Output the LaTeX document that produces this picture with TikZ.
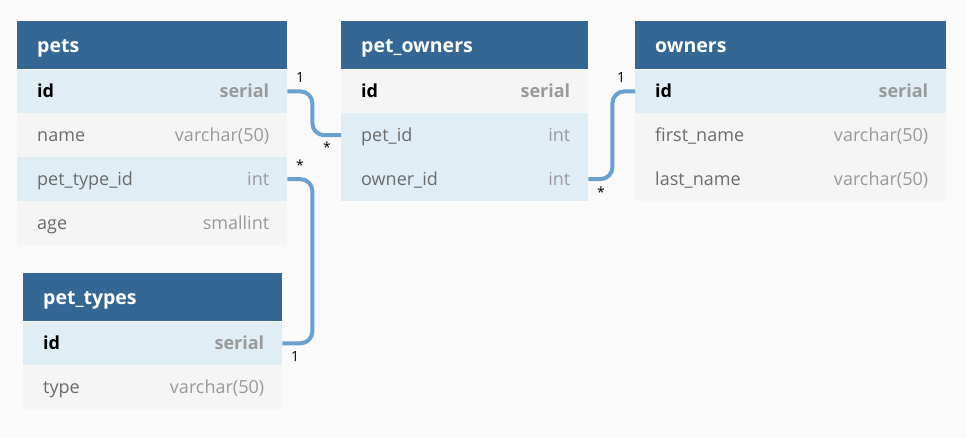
\documentclass[tikz,border=0pt]{standalone}
\usepackage{fontspec}
\setmainfont{Open Sans}
\usepackage{tikz}
\definecolor{bggray}{HTML}{FAFAFA}
\definecolor{hdrblue}{HTML}{356794}
\definecolor{rowblue}{HTML}{E1EDF5}
\definecolor{rowgray}{HTML}{F5F5F5}
\definecolor{fldgray}{HTML}{6B6B6B}
\definecolor{typgray}{HTML}{9A9A9A}
\definecolor{linkblue}{HTML}{6AA1CF}

\begin{document}
\begin{tikzpicture}[x=1pt,y=-1pt]
\tikzstyle{every node}+=[inner sep=0pt]
\tikzstyle{head}=[fill=hdrblue, anchor=north west, minimum height=48pt]
\tikzstyle{rowb}=[fill=rowblue, anchor=north west, minimum height=43.5pt]
\tikzstyle{rowg}=[fill=rowgray, anchor=north west, minimum height=43.5pt]
\tikzstyle{title}=[anchor=base west, text=white, font=\fontsize{19.5}{22}\selectfont\bfseries]
\tikzstyle{fld}=[anchor=base west, text=fldgray, font=\fontsize{18}{21}\selectfont]
\tikzstyle{fldkey}=[fld, text=black, font=\fontsize{18}{21}\selectfont\bfseries]
\tikzstyle{typ}=[anchor=base east, text=typgray, font=\fontsize{18}{21}\selectfont]
\tikzstyle{typkey}=[typ, font=\fontsize{18}{21}\selectfont\bfseries]
\tikzstyle{link}=[draw=linkblue, line width=4pt, rounded corners=12pt]
\tikzstyle{card}=[font=\fontsize{14}{16}\selectfont]
\useasboundingbox (0,0) rectangle (966,438);
\fill [bggray] (0,0) rectangle (966,438);
% pets
\node [head, minimum width=270pt] (pets) at (17,21) {};
\node [title] (pets-t) at ([xshift=20pt,yshift=-7pt]pets.west) {pets};
\node [rowb, minimum width=270pt] (pets-id) at (pets.south west) {};
\node [fldkey] (pets-id-n) at ([xshift=20pt,yshift=-6.5pt]pets-id.west) {id};
\node [typkey] (pets-id-t) at ([xshift=-18pt,yshift=-6.5pt]pets-id.east) {serial};
\node [rowg, minimum width=270pt] (pets-name) at (pets-id.south west) {};
\node [fld] (pets-name-n) at ([xshift=20pt,yshift=-6.5pt]pets-name.west) {name};
\node [typ] (pets-name-t) at ([xshift=-18pt,yshift=-6.5pt]pets-name.east) {varchar(50)};
\node [rowb, minimum width=270pt] (pets-ptid) at (pets-name.south west) {};
\node [fld] (pets-ptid-n) at ([xshift=20pt,yshift=-6.5pt]pets-ptid.west) {pet\_type\_id};
\node [typ] (pets-ptid-t) at ([xshift=-18pt,yshift=-6.5pt]pets-ptid.east) {int};
\node [rowg, minimum width=270pt] (pets-age) at (pets-ptid.south west) {};
\node [fld] (pets-age-n) at ([xshift=20pt,yshift=-6.5pt]pets-age.west) {age};
\node [typ] (pets-age-t) at ([xshift=-18pt,yshift=-6.5pt]pets-age.east) {smallint};
% pet_owners
\node [head, minimum width=247pt] (po) at (341,21) {};
\node [title] (po-t) at ([xshift=20pt,yshift=-7pt]po.west) {pet\_owners};
\node [rowg, minimum width=247pt] (po-id) at (po.south west) {};
\node [fldkey] (po-id-n) at ([xshift=20pt,yshift=-6.5pt]po-id.west) {id};
\node [typkey] (po-id-t) at ([xshift=-18pt,yshift=-6.5pt]po-id.east) {serial};
\node [rowb, minimum width=247pt] (po-pet) at (po-id.south west) {};
\node [fld] (po-pet-n) at ([xshift=20pt,yshift=-6.5pt]po-pet.west) {pet\_id};
\node [typ] (po-pet-t) at ([xshift=-18pt,yshift=-6.5pt]po-pet.east) {int};
\node [rowb, minimum width=247pt] (po-own) at (po-pet.south west) {};
\node [fld] (po-own-n) at ([xshift=20pt,yshift=-6.5pt]po-own.west) {owner\_id};
\node [typ] (po-own-t) at ([xshift=-18pt,yshift=-6.5pt]po-own.east) {int};
% owners
\node [head, minimum width=311pt] (own) at (635,21) {};
\node [title] (own-t) at ([xshift=20pt,yshift=-7pt]own.west) {owners};
\node [rowb, minimum width=311pt] (own-id) at (own.south west) {};
\node [fldkey] (own-id-n) at ([xshift=20pt,yshift=-6.5pt]own-id.west) {id};
\node [typkey] (own-id-t) at ([xshift=-18pt,yshift=-6.5pt]own-id.east) {serial};
\node [rowg, minimum width=311pt] (own-fn) at (own-id.south west) {};
\node [fld] (own-fn-n) at ([xshift=20pt,yshift=-6.5pt]own-fn.west) {first\_name};
\node [typ] (own-fn-t) at ([xshift=-18pt,yshift=-6.5pt]own-fn.east) {varchar(50)};
\node [rowg, minimum width=311pt] (own-ln) at (own-fn.south west) {};
\node [fld] (own-ln-n) at ([xshift=20pt,yshift=-6.5pt]own-ln.west) {last\_name};
\node [typ] (own-ln-t) at ([xshift=-18pt,yshift=-6.5pt]own-ln.east) {varchar(50)};
% pet_types
\node [head, minimum width=259pt] (pt) at (23,273) {};
\node [title] (pt-t) at ([xshift=20pt,yshift=-7pt]pt.west) {pet\_types};
\node [rowb, minimum width=259pt] (pt-id) at (pt.south west) {};
\node [fldkey] (pt-id-n) at ([xshift=20pt,yshift=-6.5pt]pt-id.west) {id};
\node [typkey] (pt-id-t) at ([xshift=-18pt,yshift=-6.5pt]pt-id.east) {serial};
\node [rowg, minimum width=259pt] (pt-type) at (pt-id.south west) {};
\node [fld] (pt-type-n) at ([xshift=20pt,yshift=-6.5pt]pt-type.west) {type};
\node [typ] (pt-type-t) at ([xshift=-18pt,yshift=-6.5pt]pt-type.east) {varchar(50)};
% links
\draw [link] (pets-id.east) -- ++(25,0) |- (po-pet.west);
\draw [link] (pets-ptid.east) -- ++(25,0) |- (pt-id.east);
\draw [link] (po-own.east) -- ++(24,0) |- (own-id.west);
\node [card] (c1) at (300,78) {1};
\node [card] (c2) at (327,147) {*};
\node [card] (c3) at (300,165) {*};
\node [card] (c4) at (295,357) {1};
\node [card] (c5) at (601,192) {*};
\node [card] (c6) at (621,78) {1};
\end{tikzpicture}
\end{document}
